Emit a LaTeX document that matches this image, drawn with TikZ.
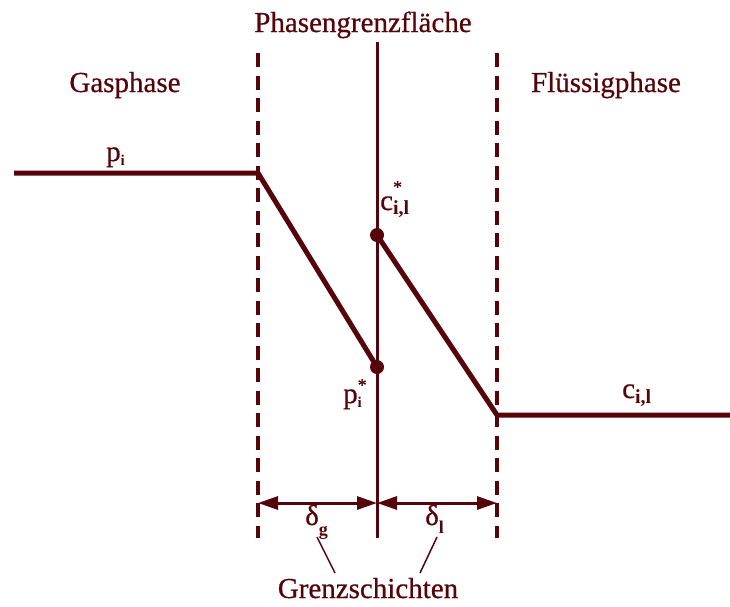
\documentclass[tikz,border=0pt]{standalone}
\usepackage{fontspec}
\setmainfont{Liberation Serif}[UprightFeatures={FakeBold=0.6}]
\usetikzlibrary{arrows.meta}
\definecolor{filmred}{RGB}{85,5,10}
\newcommand{\subidx}[3]{\raisebox{-#1pt}{\fontsize{#2}{#2}\selectfont\bfseries #3}}
\newcommand{\staridx}[1]{\makebox[0pt][l]{\raisebox{#1pt}{\fontsize{18}{18}\selectfont *}}}

\begin{document}
\begin{tikzpicture}[x=1pt, y=-1pt,
  lab/.style={font=\fontsize{29}{34}\selectfont, text=filmred, inner sep=0pt, anchor=base},
  sym/.style={lab, anchor=base west},
  film/.style={draw=filmred, line width=4pt, dash pattern=on 14pt off 8.5pt},
  iface/.style={draw=filmred, line width=3pt},
  prof/.style={draw=filmred, line width=5pt, line join=miter},
  dot/.style={circle, fill=filmred, minimum size=14pt, inner sep=0pt},
  dim/.style={draw=filmred, line width=3pt, {Triangle[length=20pt, width=13pt]}-{Triangle[length=20pt, width=13pt]}},
  lead/.style={draw=filmred, line width=1.5pt},
]
  \fill[white] (0,0) rectangle (730,606);
  \useasboundingbox (0,0) rectangle (730,606);

  % phase labels
  \node[lab] (pgf) at (363,32) {Phasengrenzfläche};
  \node[lab] (gas) at (125,92) {Gasphase};
  \node[lab] (liq) at (606,92) {Flüssigphase};

  % film boundaries and interface
  \coordinate (gtop) at (258,53);  \coordinate (gbot) at (258,538);
  \coordinate (ltop) at (497,53);  \coordinate (lbot) at (497,538);
  \coordinate (itop) at (377,42);  \coordinate (ibot) at (377,538);
  \draw[film] (gtop) -- (gbot);
  \draw[film] (ltop) -- (lbot);
  \draw[iface] (itop) -- (ibot);

  % concentration profile
  \coordinate (gin) at (14,173);   \coordinate (gedge) at (258,173);
  \node[dot] (pst) at (377,367) {};
  \node[dot] (cst) at (377,235) {};
  \coordinate (ledge) at (497,415); \coordinate (lin) at (730,415);
  \draw[prof] (gin) -- (gedge) -- (pst.center);
  \draw[prof] (cst.center) -- (ledge) -- (lin);

  \node[sym] (pi) at (106,161) {p\subidx{4}{15}{i}};
  \node[sym] (cstl) at (380,210) {c\staridx{17}\subidx{4}{20}{i,l}};
  \node[sym] (pstl) at (343,403) {p\staridx{12}\subidx{4}{15}{i}};
  \node[sym] (cil) at (622,398) {c\subidx{5}{20}{i,l}};

  % film thicknesses
  \coordinate (ag) at (258,503); \coordinate (ai) at (377,503); \coordinate (al) at (497,503);
  \draw[dim] (ag) -- (ai);
  \draw[dim] (ai) -- (al);
  \node[sym] (dg) at (305,525) {δ\subidx{10}{18}{g}};
  \node[sym] (dl) at (425,525) {δ\subidx{8}{18}{l}};

  \node[lab] (gs) at (368,598) {Grenzschichten};
  \coordinate (lgt) at (317,537); \coordinate (lgb) at (335,573);
  \coordinate (llt) at (437,537); \coordinate (llb) at (420,573);
  \draw[lead] (lgt) -- (lgb);
  \draw[lead] (llt) -- (llb);
\end{tikzpicture}
\end{document}
